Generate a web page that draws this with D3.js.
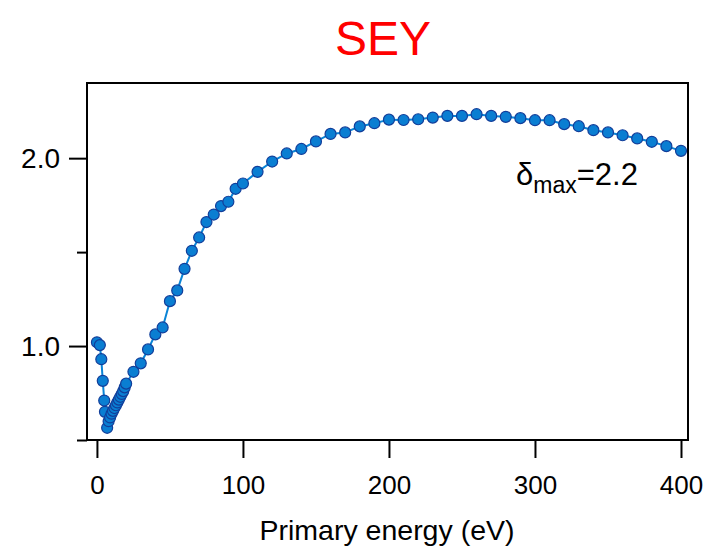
<!DOCTYPE html>
<html>
<head>
<meta charset="utf-8">
<script src="https://cdn.jsdelivr.net/npm/d3@7"></script>
<style>
  html, body { margin: 0; padding: 0; background: #fff; }
  svg { display: block; }
  text { font-family: "Liberation Sans", Arial, sans-serif; }
</style>
</head>
<body>
<svg id="chart" width="715" height="550"></svg>
<script>
// Secondary electron yield vs. primary electron energy
const energy = [0, 2, 3, 4, 5, 5.5, 7,
  8, 9, 10, 11, 12, 13, 14, 15, 16, 17, 18, 19, 20,
  25, 30, 35, 40, 45, 50, 55, 60, 65, 70, 75, 80, 85, 90, 95, 100,
  110, 120, 130, 140, 150, 160, 170, 180, 190, 200,
  210, 220, 230, 240, 250, 260, 270, 280, 290, 300,
  310, 320, 330, 340, 350, 360, 370, 380, 390, 400];
const yieldValues = [1.02, 1.005, 0.93, 0.815, 0.71, 0.65, 0.565,
  0.6, 0.62, 0.64, 0.655, 0.67, 0.685, 0.70, 0.715, 0.73, 0.745, 0.76, 0.78, 0.80,
  0.863, 0.908, 0.982, 1.062, 1.099, 1.239, 1.296, 1.411, 1.507, 1.578, 1.66, 1.70, 1.745, 1.768, 1.837, 1.865,
  1.927, 1.982, 2.025, 2.049, 2.089, 2.129, 2.137, 2.169, 2.186, 2.205,
  2.203, 2.207, 2.216, 2.225, 2.225, 2.234, 2.225, 2.220, 2.213, 2.202,
  2.202, 2.181, 2.170, 2.149, 2.137, 2.122, 2.105, 2.087, 2.064, 2.039];
const xTicks = [0, 100, 200, 300, 400];
const yMajorTicks = [1.0, 2.0];
const yMinorTicks = [0.5, 1.5];
const chartTitle = "SEY";
const xTitle = "Primary energy (eV)";
const deltaMax = 2.2;

const svg = d3.select("#chart");
const plot = { left: 87, top: 83, right: 688, bottom: 440 };

const x = d3.scaleLinear().domain([-6.8, 404.8]).range([plot.left, plot.right]);
const y = d3.scaleLinear().domain([0.5, 2.4]).range([plot.bottom, plot.top]);

// Title
svg.append("text")
  .attr("x", 383).attr("y", 55)
  .attr("text-anchor", "middle")
  .attr("fill", "#ff0000")
  .style("font-size", "48px")
  .text(chartTitle);

// Frame
svg.append("rect")
  .attr("x", plot.left).attr("y", plot.top)
  .attr("width", plot.right - plot.left).attr("height", plot.bottom - plot.top)
  .attr("fill", "none").attr("stroke", "#000").attr("stroke-width", 2);

// X axis
const xAxis = d3.axisBottom(x).tickValues(xTicks).tickFormat(d3.format("d"))
  .tickSize(18).tickPadding(18);
const gx = svg.append("g").attr("transform", `translate(0,${plot.bottom})`).call(xAxis);
gx.select(".domain").remove();
gx.selectAll(".tick line").attr("stroke", "#000").attr("stroke-width", 2);
gx.selectAll(".tick text").attr("fill", "#000").style("font-size", "26px")
  .style("font-family", "'Liberation Sans', Arial, sans-serif");

// Y axis: labelled major ticks and short minor ticks
const yAxis = d3.axisLeft(y).tickValues(yMajorTicks).tickFormat(d3.format(".1f"))
  .tickSize(18).tickPadding(9);
const gy = svg.append("g").attr("transform", `translate(${plot.left},0)`).call(yAxis);
gy.select(".domain").remove();
gy.selectAll(".tick line").attr("stroke", "#000").attr("stroke-width", 2);
gy.selectAll(".tick text").attr("fill", "#000").style("font-size", "28px")
  .style("font-family", "'Liberation Sans', Arial, sans-serif");

const yAxisMinor = d3.axisLeft(y).tickValues(yMinorTicks).tickFormat("").tickSize(10);
const gyMinor = svg.append("g").attr("transform", `translate(${plot.left},0)`).call(yAxisMinor);
gyMinor.select(".domain").remove();
gyMinor.selectAll(".tick line").attr("stroke", "#000").attr("stroke-width", 2);

// X axis title
svg.append("text")
  .attr("x", 387).attr("y", 540)
  .attr("text-anchor", "middle")
  .attr("fill", "#000")
  .style("font-size", "28.5px")
  .text(xTitle);

// Data line and markers
const data = energy.map((e, i) => ({ e, v: yieldValues[i] }));
const line = d3.line().x(d => x(d.e)).y(d => y(d.v));

svg.append("path")
  .datum(data)
  .attr("d", line)
  .attr("fill", "none")
  .attr("stroke", "#0a84d6")
  .attr("stroke-width", 2);

svg.append("g").selectAll("circle")
  .data(data)
  .join("circle")
  .attr("cx", d => x(d.e))
  .attr("cy", d => y(d.v))
  .attr("r", 5.5)
  .attr("fill", "#0a7ed2")
  .attr("stroke", "#123e9a")
  .attr("stroke-width", 1.2);

// Maximum yield annotation
const ann = svg.append("text")
  .attr("x", 516).attr("y", 185)
  .attr("fill", "#000")
  .style("font-size", "31px");
ann.append("tspan").text("δ");
ann.append("tspan").attr("dy", 8).style("font-size", "23px").text("max");
ann.append("tspan").attr("dy", -8).text("=" + deltaMax.toFixed(1));
</script>
</body>
</html>
